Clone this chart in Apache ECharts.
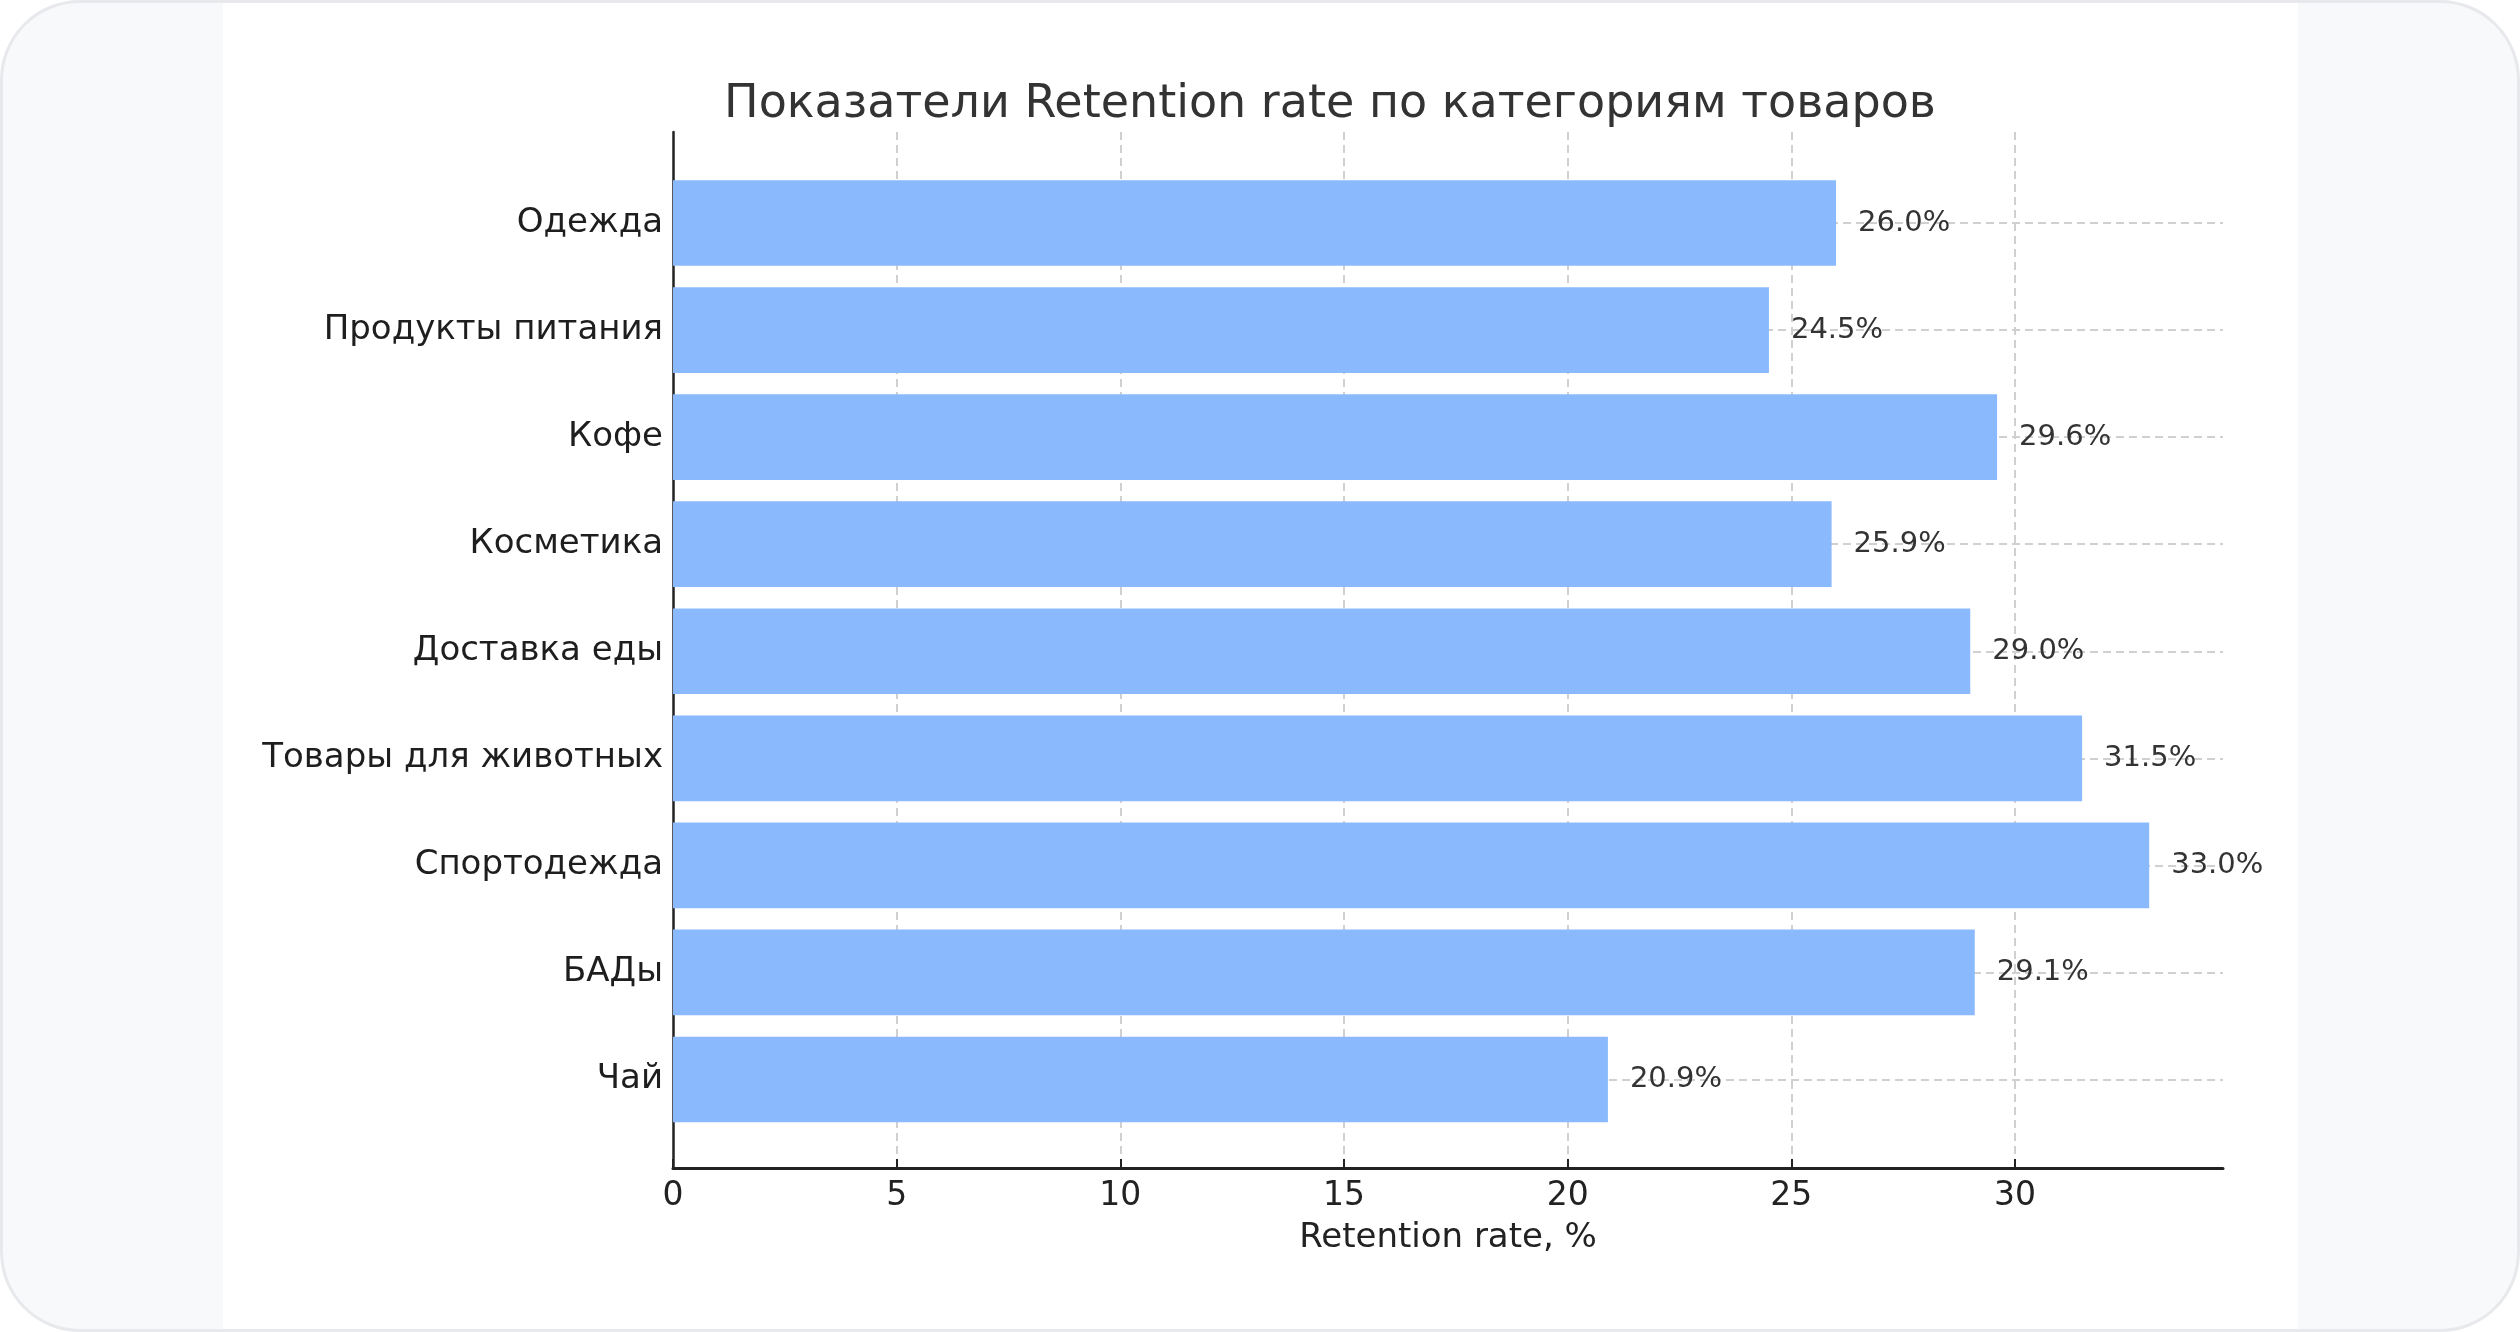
<!DOCTYPE html>
<html>
<head>
<meta charset="utf-8">
<title>Retention rate</title>
<script src="https://cdn.jsdelivr.net/npm/echarts@6/dist/echarts.min.js"></script>
<style>
    html, body { margin: 0; padding: 0; background: #ffffff; }
    #frame {
        position: absolute; left: 0; top: 0;
        width: 2514px; height: 1326px;
        border: 3px solid #e7e9ec; border-radius: 80px;
        background: #f8f9fb; overflow: hidden;
    }
    #panel {
        position: absolute; left: 220px; top: 0;
        width: 2075px; height: 1326px; background: #ffffff;
    }
    #chart { position: absolute; left: 0; top: 0; width: 2520px; height: 1332px; }
</style>
</head>
<body>
<div id="frame"><div id="panel"></div></div>
<div id="chart"></div>
<script>
// data
var categories = ['Одежда', 'Продукты питания', 'Кофе', 'Косметика', 'Доставка еды',
    'Товары для животных', 'Спортодежда', 'БАДы', 'Чай'];
var retention = [26.0, 24.5, 29.6, 25.9, 29.0, 31.5, 33.0, 29.1, 20.9];
var xTicks = [0, 5, 10, 15, 20, 25, 30];

var FONT = 'DejaVu Sans';
var X_MAX = 34.65;

var chart = echarts.init(document.getElementById('chart'));

chart.setOption({
    animation: false,
    title: {
        text: 'Показатели Retention rate по категориям товаров',
        left: 1325,
        top: 77,
        textAlign: 'center',
        textStyle: { fontFamily: FONT, fontSize: 46, fontWeight: 'normal', color: '#333333' }
    },
    grid: [
        // frame: axes lines, x ticks, vertical grid
        { left: 673, right: 297, top: 132, bottom: 164 },
        // bars
        { left: 673, right: 297, top: 169.5, bottom: 199 },
        // horizontal grid lines at category centres
        { left: 673, right: 297, top: 223, bottom: 252.5 }
    ],
    xAxis: [
        {
            gridIndex: 0,
            type: 'value',
            min: 0,
            max: X_MAX,
            interval: 5,
            name: 'Retention rate, %',
            nameLocation: 'middle',
            nameGap: 53,
            nameTextStyle: { fontFamily: FONT, fontSize: 34, color: '#222222' },
            axisLine: { show: true, lineStyle: { color: '#222222', width: 3 } },
            axisTick: { show: true, inside: true, length: 9, customValues: xTicks,
                lineStyle: { color: '#222222', width: 2 } },
            axisLabel: { fontFamily: FONT, fontSize: 33, color: '#222222', margin: 12,
                customValues: xTicks },
            splitLine: { show: true, showMinLine: false,
                lineStyle: { color: '#d0d0d0', type: [8, 5], width: 2 } }
        },
        { gridIndex: 1, type: 'value', min: 0, max: X_MAX, show: false },
        { gridIndex: 2, type: 'value', min: 0, max: X_MAX, show: false }
    ],
    yAxis: [
        {
            gridIndex: 0,
            type: 'value',
            min: 0,
            max: 1,
            axisLine: { show: true, lineStyle: { color: '#222222', width: 2.5 } },
            axisTick: { show: false },
            axisLabel: { show: false },
            splitLine: { show: false }
        },
        {
            gridIndex: 1,
            type: 'category',
            inverse: true,
            data: categories,
            axisLine: { show: false },
            axisTick: { show: true, inside: true, alignWithLabel: true, length: 9,
                lineStyle: { color: '#2a3b55', width: 2 } },
            axisLabel: { fontFamily: FONT, fontSize: 34, color: '#1e1e1e', margin: 10,
                padding: [5, 0, 0, 0] },
            splitLine: { show: false }
        },
        {
            gridIndex: 2,
            type: 'category',
            inverse: true,
            boundaryGap: false,
            data: categories,
            axisLine: { show: false },
            axisTick: { show: false },
            axisLabel: { show: false },
            splitLine: { show: true, lineStyle: { color: '#d0d0d0', type: [8, 5], width: 2 } }
        }
    ],
    series: [
        {
            name: 'Retention rate',
            type: 'bar',
            xAxisIndex: 1,
            yAxisIndex: 1,
            data: retention,
            barCategoryGap: '20%',
            itemStyle: { color: '#8abafd' },
            label: {
                show: true,
                position: 'right',
                distance: 22,
                fontFamily: FONT,
                fontSize: 29,
                color: '#333333',
                formatter: function (p) {
                    return p.value.toFixed(1) + '%';
                }
            },
            z: 3
        }
    ]
});
</script>
</body>
</html>
